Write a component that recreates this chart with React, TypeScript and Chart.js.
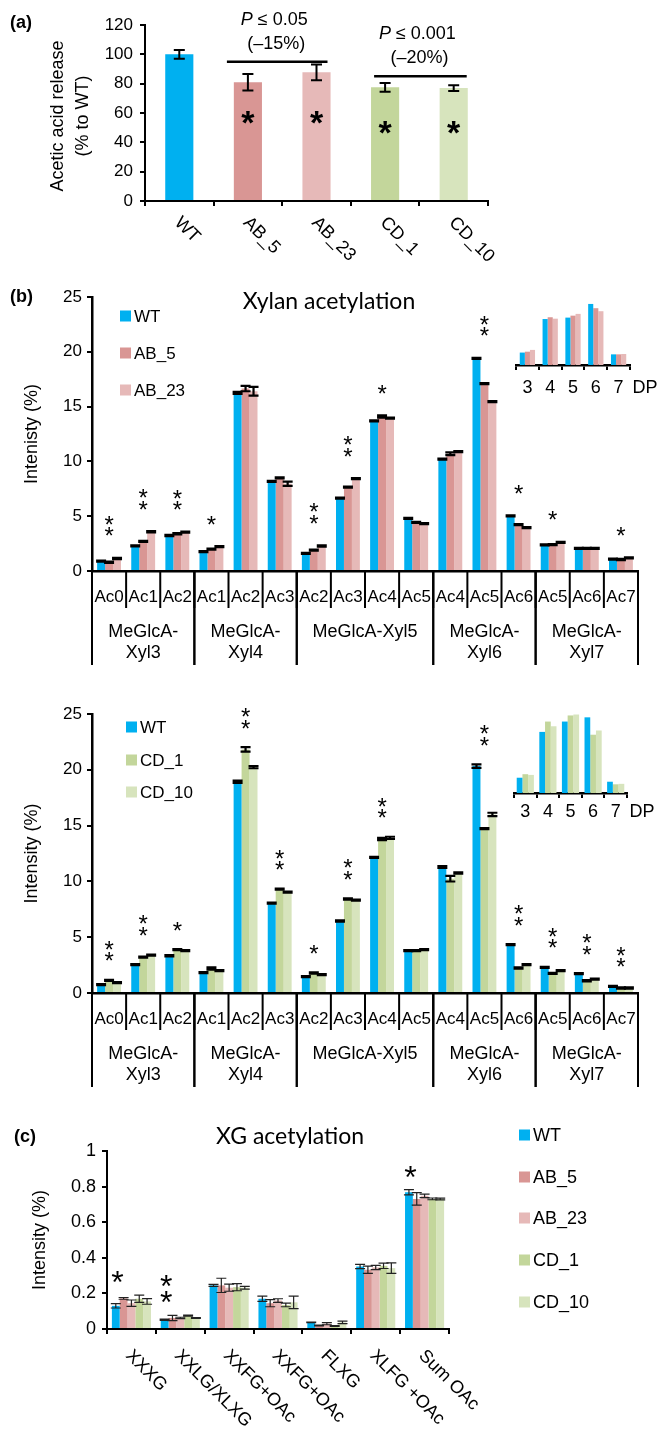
import React, { useEffect, useRef } from 'react';
import { Chart, registerables } from 'chart.js';

Chart.register(...registerables);

// ---------------- Panel (a) data ----------------
const aLines = ['WT', 'AB_5', 'AB_23', 'CD_1', 'CD_10'];
const aRelease = [100, 81, 87.7, 77.5, 77];
const aReleaseErr = [3, 5.6, 5.4, 3, 2];
const aYTicks = [0, 20, 40, 60, 80, 100, 120];
const aStars = ['', '*', '*', '*', '*'];
const aPvalues = ['0.05', '0.001'];
const aChanges = ['(–15%)', '(–20%)'];

// ---------------- Panel (b) data ----------------
const xylanAc = ['Ac0', 'Ac1', 'Ac2', 'Ac1', 'Ac2', 'Ac3', 'Ac2', 'Ac3', 'Ac4', 'Ac5', 'Ac4', 'Ac5', 'Ac6', 'Ac5', 'Ac6', 'Ac7'];
const xylanGroups = [['MeGlcA-', 'Xyl3'], ['MeGlcA-', 'Xyl4'], ['MeGlcA-Xyl5'], ['MeGlcA-', 'Xyl6'], ['MeGlcA-', 'Xyl7']];
const xylanGroupSizes = [3, 3, 4, 3, 3];
const bYTicks = [0, 5, 10, 15, 20, 25];

const bTopWT = [0.9, 2.3, 3.24, 1.76, 16.25, 8.18, 1.6, 6.64, 13.7, 4.81, 10.2, 19.4, 5.03, 2.38, 2.07, 1.08];
const bTopAB5 = [0.8, 2.7, 3.4, 2.0, 16.65, 8.49, 1.91, 7.65, 14.1, 4.44, 10.7, 17.1, 4.23, 2.41, 2.07, 1.05];
const bTopAB23 = [1.14, 3.58, 3.55, 2.22, 16.4, 7.96, 2.28, 8.43, 13.95, 4.32, 10.9, 15.45, 3.95, 2.62, 2.07, 1.2];
const bTopErrWT = [0.05, 0.05, 0.05, 0.05, 0.1, 0.05, 0.05, 0.05, 0.05, 0.05, 0.05, 0.05, 0.05, 0.05, 0.05, 0.05];
const bTopErrAB5 = [0.05, 0.05, 0.05, 0.05, 0.25, 0.05, 0.05, 0.05, 0.1, 0.05, 0.12, 0.05, 0.05, 0.05, 0.05, 0.05];
const bTopErrAB23 = [0.05, 0.05, 0.05, 0.05, 0.4, 0.2, 0.05, 0.05, 0.05, 0.05, 0.05, 0.05, 0.05, 0.05, 0.05, 0.05];
const bTopSig = ['**', '**', '**', '*', '', '', '**', '**', '*', '', '', '**', '*', '*', '', '*'];

const bBotWT = [0.75, 2.54, 3.34, 1.82, 18.93, 8.06, 1.46, 6.45, 12.16, 3.79, 11.3, 20.33, 4.33, 2.3, 1.73, 0.6];
const bBotCD1 = [1.13, 3.22, 3.88, 2.2, 21.83, 9.31, 1.79, 8.42, 13.8, 3.79, 10.24, 14.73, 2.24, 1.76, 1.1, 0.45];
const bBotCD10 = [0.93, 3.4, 3.79, 2.0, 20.24, 9.04, 1.64, 8.33, 13.9, 3.88, 10.75, 16.0, 2.54, 2.0, 1.25, 0.45];
const bBotErrWT = [0.05, 0.05, 0.05, 0.05, 0.1, 0.05, 0.05, 0.05, 0.05, 0.05, 0.08, 0.15, 0.05, 0.05, 0.05, 0.05];
const bBotErrCD1 = [0.05, 0.05, 0.05, 0.1, 0.2, 0.05, 0.05, 0.05, 0.1, 0.05, 0.25, 0.05, 0.05, 0.05, 0.05, 0.05];
const bBotErrCD10 = [0.05, 0.05, 0.05, 0.05, 0.1, 0.05, 0.05, 0.05, 0.1, 0.05, 0.05, 0.15, 0.05, 0.05, 0.05, 0.05];
const bBotSig = ['**', '**', '*', '', '**', '**', '*', '**', '**', '', '', '**', '**', '**', '**', '**'];

// DP distribution insets (%)
const dpLabels = ['3', '4', '5', '6', '7'];
const dpTopWT = [7.0, 25.9, 26.7, 34.4, 6.0];
const dpTopAB5 = [7.5, 26.9, 27.8, 32.0, 6.0];
const dpTopAB23 = [8.5, 26.1, 28.8, 30.3, 6.2];
const dpBotWT = [6.5, 26.0, 30.4, 32.2, 4.8];
const dpBotCD1 = [8.0, 30.4, 33.0, 24.8, 3.7];
const dpBotCD10 = [7.7, 28.4, 33.4, 26.6, 3.9];

// ---------------- Panel (c) data ----------------
const xgCategories = ['XXXG', 'XXLG/XLXG', 'XXFG+OAc', 'XXFG+OAc', 'FLXG', 'XLFG +OAc', 'Sum OAc'];
const xgYTicks = [0, 0.2, 0.4, 0.6, 0.8, 1];
const xgWT = [0.13, 0.052, 0.245, 0.17, 0.037, 0.351, 0.768];
const xgAB5 = [0.172, 0.062, 0.245, 0.145, 0.02, 0.333, 0.731];
const xgAB23 = [0.145, 0.062, 0.232, 0.16, 0.03, 0.346, 0.748];
const xgCD1 = [0.17, 0.075, 0.235, 0.135, 0.017, 0.355, 0.731];
const xgCD10 = [0.155, 0.062, 0.232, 0.15, 0.037, 0.342, 0.73];
const xgErrWT = [0.012, 0.004, 0.006, 0.015, 0.002, 0.012, 0.015];
const xgErrAB5 = [0.005, 0.015, 0.04, 0.02, 0.002, 0.02, 0.035];
const xgErrAB23 = [0.018, 0.004, 0.02, 0.01, 0.006, 0.012, 0.01];
const xgErrCD1 = [0.02, 0.003, 0.02, 0.01, 0.002, 0.015, 0.005];
const xgErrCD10 = [0.016, 0.002, 0.008, 0.035, 0.007, 0.03, 0.005];
const xgSig = ['*', '**', '', '', '', '', '*'];

// ---------------- styles ----------------
const SANS = '"Liberation Sans", Arial, sans-serif';
const TITLE = 'Lato, "Open Sans", sans-serif';
const COL: Record<string, string> = {
  WT: '#00B0F0',
  AB_5: '#D99694',
  AB_23: '#E6B9B8',
  CD_1: '#C3D69B',
  CD_10: '#D7E4BD',
};
const PAGE_W = 658;

type Area = { left: number; top: number; right: number; bottom: number };
type Helpers = { sx: (i: number) => number; sy: (v: number) => number; catW: number; chart: any };
type Spec = {
  top: number;
  height: number;
  area: Area;
  labels: string[];
  datasets: any[];
  yTicks?: number[];
  yMax?: number;
  showY: boolean;
  xTicks: boolean;
  catPct: number;
  barPct: number;
  err?: { width: number; cap: number; color: string };
  tickFont?: any;
  yPad?: number;
  axisWidth?: number;
  draw?: (ctx: CanvasRenderingContext2D, h: Helpers) => void;
};

// ---------------- drawing helpers ----------------
function txt(ctx: CanvasRenderingContext2D, s: string, x: number, y: number, font: string, align: CanvasTextAlign = 'center') {
  ctx.save();
  ctx.font = font;
  ctx.fillStyle = '#000';
  ctx.textAlign = align;
  ctx.textBaseline = 'middle';
  ctx.fillText(s, x, y);
  ctx.restore();
}
function rotTxt(ctx: CanvasRenderingContext2D, s: string, x: number, y: number, font: string, angle: number, align: CanvasTextAlign) {
  ctx.save();
  ctx.translate(x, y);
  ctx.rotate(angle);
  ctx.font = font;
  ctx.fillStyle = '#000';
  ctx.textAlign = align;
  ctx.textBaseline = 'middle';
  ctx.fillText(s, 0, 0);
  ctx.restore();
}
function star(ctx: CanvasRenderingContext2D, x: number, cy: number, font: string) {
  ctx.save();
  ctx.font = font;
  ctx.fillStyle = '#000';
  ctx.textAlign = 'center';
  ctx.textBaseline = 'alphabetic';
  const m = ctx.measureText('*');
  const base = cy + (m.actualBoundingBoxAscent - m.actualBoundingBoxDescent) / 2;
  ctx.fillText('*', x, base);
  ctx.restore();
}
function stars(ctx: CanvasRenderingContext2D, s: string, x: number, cyLow: number, font: string, spacing: number) {
  for (let k = 0; k < s.length; k++) star(ctx, x, cyLow - k * spacing, font);
}
function legend(ctx: CanvasRenderingContext2D, names: string[], x: number, ys: number[], size: number, font: string) {
  names.forEach((n, i) => {
    ctx.fillStyle = COL[n];
    ctx.fillRect(x, ys[i] - size / 2, size, size);
    txt(ctx, n, x + size + 3, ys[i] + 1, font, 'left');
  });
}
function line(ctx: CanvasRenderingContext2D, x1: number, y1: number, x2: number, y2: number, w: number) {
  ctx.save();
  ctx.strokeStyle = '#000';
  ctx.lineWidth = w;
  ctx.beginPath();
  ctx.moveTo(x1, y1);
  ctx.lineTo(x2, y2);
  ctx.stroke();
  ctx.restore();
}
function topOfBars(datasets: any[], i: number) {
  let m = 0;
  datasets.forEach((d) => {
    const v = d.data[i] + (d.errors ? d.errors[i] : 0);
    if (v > m) m = v;
  });
  return m;
}

function buildConfig(s: Spec) {
  const ticks = s.yTicks;
  const yMin = ticks ? ticks[0] : 0;
  const yMax = ticks ? ticks[ticks.length - 1] : s.yMax;
  const yStep = ticks ? ticks[1] - ticks[0] : 10;
  const aw = s.axisWidth ?? 2;
  const yScale: any = {
    display: s.showY,
    min: yMin,
    max: yMax,
    ticks: {
      stepSize: yStep,
      color: '#000',
      font: s.tickFont,
      padding: s.yPad ?? 4,
      callback: (v: any) => String(Math.round(Number(v) * 100) / 100),
    },
    grid: { drawOnChartArea: false, drawTicks: true, tickLength: 5, color: '#000', lineWidth: 2 },
    border: { display: true, color: '#000', width: aw },
  };
  if (s.showY) yScale.afterFit = (sc: any) => { sc.width = s.area.left; };
  const errPlugin = {
    id: 'errbars',
    afterDatasetsDraw(chart: any) {
      if (!s.err) return;
      const ctx = chart.ctx;
      const ys = chart.scales.y;
      chart.data.datasets.forEach((ds: any, di: number) => {
        if (!ds.errors) return;
        const meta = chart.getDatasetMeta(di);
        meta.data.forEach((bar: any, i: number) => {
          const v = ds.data[i];
          const e = ds.errors[i];
          const x = bar.x;
          const y1 = ys.getPixelForValue(v + e);
          const y2 = ys.getPixelForValue(Math.max(0, v - e));
          ctx.save();
          ctx.strokeStyle = s.err!.color;
          ctx.lineWidth = s.err!.width;
          ctx.beginPath();
          ctx.moveTo(x, y1); ctx.lineTo(x, y2);
          ctx.moveTo(x - s.err!.cap, y1); ctx.lineTo(x + s.err!.cap, y1);
          ctx.moveTo(x - s.err!.cap, y2); ctx.lineTo(x + s.err!.cap, y2);
          ctx.stroke();
          ctx.restore();
        });
      });
    },
  };
  const drawPlugin = {
    id: 'custom',
    afterDraw(chart: any) {
      if (!s.draw) return;
      const ctx = chart.ctx;
      ctx.save();
      ctx.translate(0, -s.top);
      const xs = chart.scales.x;
      const h: Helpers = {
        sx: (i: number) => xs.getPixelForValue(i),
        sy: (v: number) => chart.scales.y.getPixelForValue(v) + s.top,
        catW: (xs.right - xs.left) / s.labels.length,
        chart,
      };
      s.draw(ctx, h);
      ctx.restore();
    },
  };
  return {
    type: 'bar',
    data: {
      labels: s.labels,
      datasets: s.datasets.map((d) => ({ ...d, categoryPercentage: s.catPct, barPercentage: s.barPct, borderWidth: 0 })),
    },
    options: {
      responsive: false,
      animation: false,
      events: [],
      layout: {
        padding: {
          left: s.showY ? 0 : s.area.left,
          top: s.area.top - s.top,
          right: PAGE_W - s.area.right,
          bottom: 0,
        },
      },
      plugins: { legend: { display: false }, tooltip: { enabled: false }, title: { display: false } },
      scales: {
        x: {
          offset: true,
          ticks: { display: false },
          grid: { display: s.xTicks, offset: true, drawOnChartArea: false, drawTicks: true, tickLength: 5, color: '#000', lineWidth: 2 },
          border: { display: true, color: '#000', width: aw },
          afterFit: (sc: any) => { sc.height = s.top + s.height - s.area.bottom; },
        },
        y: yScale,
      },
    },
    plugins: [errPlugin, drawPlugin],
  } as any;
}

function ChartCanvas({ spec }: { spec: Spec }) {
  const ref = useRef<HTMLCanvasElement>(null);
  useEffect(() => {
    const chart = new Chart(ref.current as HTMLCanvasElement, buildConfig(spec));
    return () => chart.destroy();
  }, []);
  return (
    <canvas
      ref={ref}
      width={PAGE_W}
      height={spec.height}
      style={{ position: 'absolute', left: 0, top: spec.top, width: PAGE_W, height: spec.height }}
    />
  );
}

// ---------------- panel specs ----------------
const F17 = `17px ${SANS}`;
const F18 = `18px ${SANS}`;
const BOLD = `bold 18px ${SANS}`;

const specA: Spec = {
  top: 0,
  height: 275,
  area: { left: 145, top: 25, right: 488, bottom: 201 },
  labels: aLines,
  datasets: [{ data: aRelease, errors: aReleaseErr, backgroundColor: aLines.map((n) => COL[n]) }],
  yTicks: aYTicks,
  showY: true,
  xTicks: true,
  catPct: 1,
  barPct: 0.41,
  err: { width: 2, cap: 5.5, color: '#000' },
  tickFont: { family: SANS, size: 17 },
  yPad: 7,
  draw(ctx, h) {
    txt(ctx, '(a)', 10, 23, BOLD, 'left');
    rotTxt(ctx, 'Acetic acid release', 58, 116, F18, -Math.PI / 2, 'center');
    rotTxt(ctx, '(% to WT)', 83, 116, F18, -Math.PI / 2, 'center');
    aLines.forEach((n, i) => rotTxt(ctx, n, h.sx(i) - 2, 220, F18, Math.PI / 4, 'left'));
    // significance brackets
    const pairs = [[1, 2, 95, -21, 11], [3, 4, 85, -11, 13]];
    pairs.forEach((p, k) => {
      const y = h.sy(p[2]);
      const x1 = h.sx(p[0]) + p[3];
      const x2 = h.sx(p[1]) + p[4];
      line(ctx, x1, y, x2, y, 2.5);
      const cx = (x1 + x2) / 2 - 3;
      ctx.save();
      const fi = `italic 18px ${SANS}`;
      ctx.font = fi;
      const wp = ctx.measureText('P').width;
      ctx.font = F18;
      const rest = ` ≤ ${aPvalues[k]}`;
      const wr = ctx.measureText(rest).width;
      const x0 = cx - (wp + wr) / 2;
      txt(ctx, 'P', x0, y - 42, fi, 'left');
      txt(ctx, rest, x0 + wp, y - 42, F18, 'left');
      ctx.restore();
      txt(ctx, aChanges[k], cx + 2, y - 18, F18);
    });
    aStars.forEach((s, i) => {
      if (!s) return;
      star(ctx, h.sx(i), h.sy(i < 3 ? 57 : 50), `bold 34px ${SANS}`);
    });
  },
};

function xylanSpec(opts: {
  top: number; height: number; area: Area; names: string[]; series: number[][]; errs: number[][]; sig: string[];
  yLabel: string; legendX: number; legendYs: number[]; title?: string; panel?: string; starGap: number;
}): Spec {
  return {
    top: opts.top,
    height: opts.height,
    area: opts.area,
    labels: xylanAc,
    datasets: opts.names.map((n, k) => ({ label: n, data: opts.series[k], errors: opts.errs[k], backgroundColor: COL[n] })),
    yTicks: bYTicks,
    showY: true,
    xTicks: false,
    catPct: 0.7,
    barPct: 1,
    err: { width: 2.2, cap: 5, color: '#000' },
    tickFont: { family: SANS, size: 17 },
    yPad: 5,
    axisWidth: 2.5,
    draw(ctx, h) {
      const ax = opts.area.bottom;
      if (opts.panel) txt(ctx, opts.panel, 10, opts.area.top, BOLD, 'left');
      if (opts.title) txt(ctx, opts.title, 329, opts.area.top + 5, `23px ${TITLE}`);
      legend(ctx, opts.names, opts.legendX, opts.legendYs, 11, F17);
      rotTxt(ctx, opts.yLabel, 32, (opts.area.top + opts.area.bottom) / 2, F18, -Math.PI / 2, 'center');
      // category labels and dividers
      const half = h.catW / 2;
      xylanAc.forEach((a, i) => txt(ctx, a, h.sx(i), ax + 26, F17));
      for (let i = 0; i <= xylanAc.length; i++) {
        const x = i < xylanAc.length ? h.sx(i) - half : h.sx(i - 1) + half;
        line(ctx, x, ax, x, ax + 37, 2);
      }
      let start = 0;
      xylanGroups.forEach((g, gi) => {
        const end = start + xylanGroupSizes[gi];
        const xl = h.sx(start) - half;
        const xr = h.sx(end - 1) + half;
        line(ctx, xl, ax, xl, ax + 94, 2);
        line(ctx, xr, ax, xr, ax + 94, 2);
        const cx = (xl + xr) / 2;
        g.forEach((t, li) => txt(ctx, t, cx, ax + 61 + li * 21, F18));
        start = end;
      });
      const ds = h.chart.data.datasets;
      opts.sig.forEach((s, i) => {
        if (!s) return;
        const yTop = h.sy(topOfBars(ds, i));
        stars(ctx, s, h.sx(i), yTop - opts.starGap, `24px ${SANS}`, 11.5);
      });
    },
  };
}

const specBTop = xylanSpec({
  top: 228,
  height: 445,
  area: { left: 92, top: 297, right: 638, bottom: 571 },
  names: ['WT', 'AB_5', 'AB_23'],
  series: [bTopWT, bTopAB5, bTopAB23],
  errs: [bTopErrWT, bTopErrAB5, bTopErrAB23],
  sig: bTopSig,
  yLabel: 'Intenisty (%)',
  legendX: 120,
  legendYs: [316, 353, 390],
  title: 'Xylan acetylation',
  panel: '(b)',
  starGap: 26,
});

const specBBot = xylanSpec({
  top: 680,
  height: 420,
  area: { left: 92, top: 714, right: 638, bottom: 993 },
  names: ['WT', 'CD_1', 'CD_10'],
  series: [bBotWT, bBotCD1, bBotCD10],
  errs: [bBotErrWT, bBotErrCD1, bBotErrCD10],
  sig: bBotSig,
  yLabel: 'Intensity (%)',
  legendX: 126,
  legendYs: [727, 760, 792],
  starGap: 23,
});

function insetSpec(top: number, height: number, area: Area, names: string[], series: number[][], catPct: number, labelDy: number): Spec {
  return {
    top,
    height,
    area,
    labels: dpLabels,
    datasets: names.map((n, k) => ({ label: n, data: series[k], backgroundColor: COL[n] })),
    yMax: 40,
    showY: false,
    xTicks: true,
    catPct,
    barPct: 1,
    axisWidth: 2.5,
    draw(ctx, h) {
      dpLabels.forEach((l, i) => txt(ctx, l, h.sx(i), area.bottom + labelDy, F18));
      txt(ctx, 'DP', area.right + 15, area.bottom + labelDy, F18);
    },
  };
}

const specInsetTop = insetSpec(280, 125, { left: 516, top: 294, right: 630, bottom: 365 }, ['WT', 'AB_5', 'AB_23'], [dpTopWT, dpTopAB5, dpTopAB23], 0.67, 23);
const specInsetBot = insetSpec(690, 140, { left: 514, top: 699, right: 627, bottom: 793 }, ['WT', 'CD_1', 'CD_10'], [dpBotWT, dpBotCD1, dpBotCD10], 0.76, 19);

const xgNames = ['WT', 'AB_5', 'AB_23', 'CD_1', 'CD_10'];
const specC: Spec = {
  top: 1100,
  height: 330,
  area: { left: 107, top: 1151, right: 449, bottom: 1329 },
  labels: xgCategories,
  datasets: [
    { data: xgWT, errors: xgErrWT, backgroundColor: COL.WT },
    { data: xgAB5, errors: xgErrAB5, backgroundColor: COL.AB_5 },
    { data: xgAB23, errors: xgErrAB23, backgroundColor: COL.AB_23 },
    { data: xgCD1, errors: xgErrCD1, backgroundColor: COL.CD_1 },
    { data: xgCD10, errors: xgErrCD10, backgroundColor: COL.CD_10 },
  ],
  yTicks: xgYTicks,
  showY: true,
  xTicks: true,
  catPct: 0.8,
  barPct: 1,
  err: { width: 1.2, cap: 5, color: '#222' },
  tickFont: { family: SANS, size: 18 },
  yPad: 6,
  draw(ctx, h) {
    txt(ctx, '(c)', 14, 1137, BOLD, 'left');
    txt(ctx, 'XG acetylation', 290, 1137, `23px ${TITLE}`);
    legend(ctx, xgNames, 519, [1135, 1177, 1218, 1260, 1302], 11, F18);
    rotTxt(ctx, 'Intensity (%)', 40, 1240, F18, -Math.PI / 2, 'center');
    xgCategories.forEach((c, i) => rotTxt(ctx, c, h.sx(i) - 3, 1353, F18, Math.PI / 4, 'left'));
    const ds = h.chart.data.datasets;
    xgSig.forEach((s, i) => {
      if (!s) return;
      const yTop = h.sy(topOfBars(ds, i));
      stars(ctx, s, h.sx(i) - 14, yTop - 18, `32px ${SANS}`, 16.5);
    });
  },
};

export default function App() {
  return (
    <div style={{ position: 'absolute', left: 0, top: 0, width: PAGE_W, height: 1430, background: '#fff', overflow: 'hidden' }}>
      <ChartCanvas spec={specA} />
      <ChartCanvas spec={specBTop} />
      <ChartCanvas spec={specInsetTop} />
      <ChartCanvas spec={specBBot} />
      <ChartCanvas spec={specInsetBot} />
      <ChartCanvas spec={specC} />
    </div>
  );
}
